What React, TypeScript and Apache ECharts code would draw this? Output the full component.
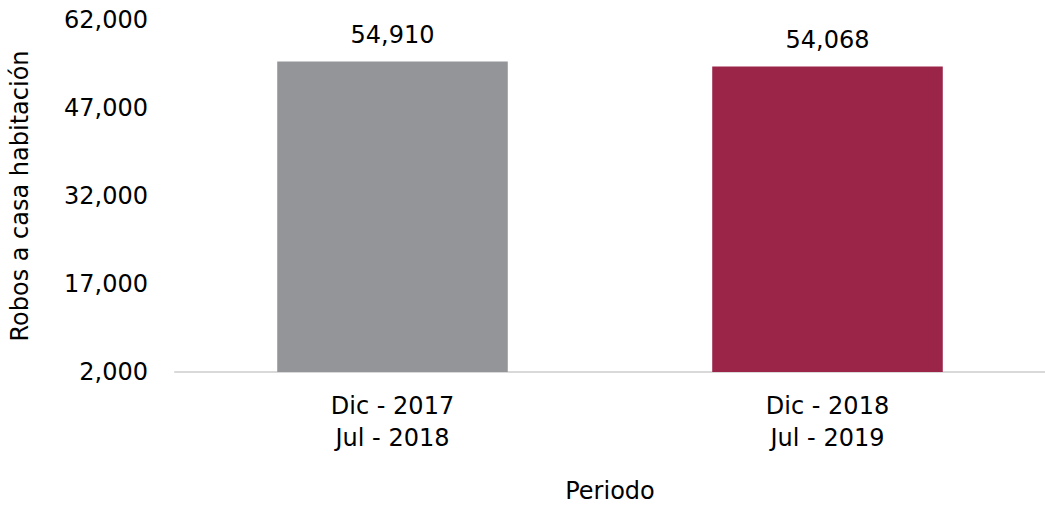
import React, { useEffect, useRef } from "react";
import * as echarts from "echarts";

const categories = ["Dic - 2017\nJul - 2018", "Dic - 2018\nJul - 2019"];
const values = [54910, 54068];
const barColors = ["#939598", "#9B2449"];
const yTicks = { min: 2000, max: 62000, interval: 15000 };

const FONT = "'DejaVu Sans', sans-serif";
const FS = 24;

export default function App() {
  const ref = useRef<HTMLDivElement>(null);
  useEffect(() => {
    document.body.style.margin = "0";
    document.body.style.overflow = "hidden";
    const chart = echarts.init(ref.current!, null, { renderer: "svg" });
    chart.setOption({
      animation: false,
      textStyle: { fontFamily: FONT },
      grid: { left: 165, top: 20, width: 893, height: 366, containLabel: false },
      xAxis: {
        type: "category",
        data: categories,
        name: "Periodo",
        nameLocation: "middle",
        nameGap: 107,
        nameTextStyle: { fontSize: FS, color: "#000", fontFamily: FONT },
        axisLine: { show: true, lineStyle: { color: "#d9d9d9", width: 2 } },
        axisTick: { show: false },
        axisLabel: { fontSize: FS, color: "#000", lineHeight: 32, margin: 18, fontFamily: FONT },
      },
      yAxis: {
        type: "value",
        min: yTicks.min,
        max: yTicks.max,
        interval: yTicks.interval,
        name: "Robos a casa habitación",
        nameLocation: "middle",
        nameGap: 143,
        nameRotate: 90,
        nameTextStyle: { fontSize: FS, color: "#000", fontFamily: FONT },
        axisLine: { show: false },
        axisTick: { show: false },
        splitLine: { show: false },
        axisLabel: {
          fontSize: FS,
          color: "#000",
          margin: 27,
          fontFamily: FONT,
          formatter: (v: number) => v.toLocaleString("en-US"),
        },
      },
      series: [
        {
          type: "bar",
          barWidth: "53%",
          data: values.map((v, i) => ({ value: v, itemStyle: { color: barColors[i] } })),
          label: {
            show: true,
            position: "top",
            distance: 15,
            fontSize: FS,
            color: "#000",
            fontFamily: FONT,
            formatter: (p: any) => Number(p.value).toLocaleString("en-US"),
          },
        },
      ],
    });
    return () => chart.dispose();
  }, []);
  return (
    <div
      ref={ref}
      style={{ position: "fixed", left: 0, top: 0, width: 1045, height: 508, background: "#fff", overflow: "hidden" }}
    />
  );
}
